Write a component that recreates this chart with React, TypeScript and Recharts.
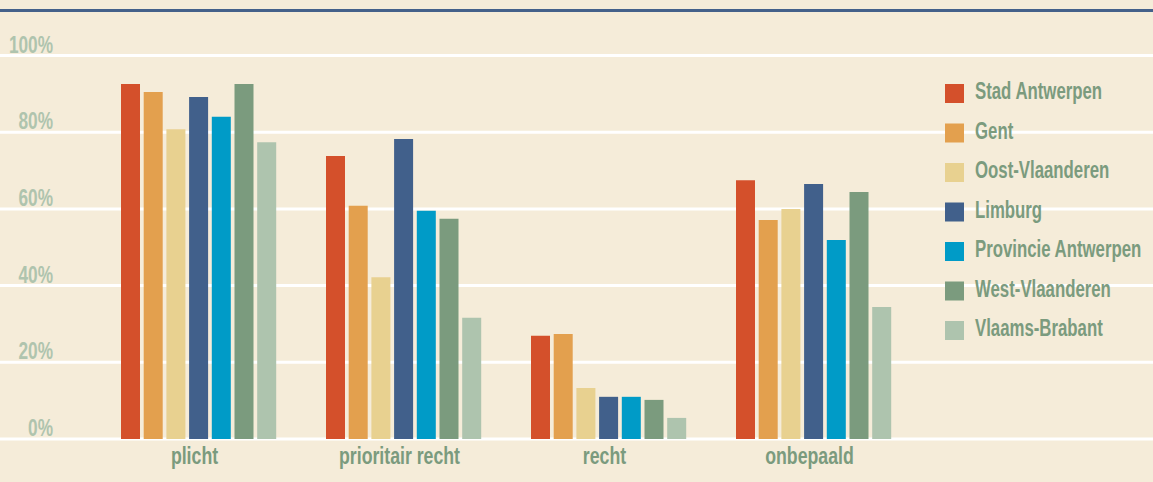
import React from 'react';
import { BarChart, Bar, XAxis, YAxis, CartesianGrid, Legend } from 'recharts';

const categories = ['plicht', 'prioritair recht', 'recht', 'onbepaald'];
const yTicks = [0, 20, 40, 60, 80, 100];

const seriesNames = [
  'Stad Antwerpen',
  'Gent',
  'Oost-Vlaanderen',
  'Limburg',
  'Provincie Antwerpen',
  'West-Vlaanderen',
  'Vlaams-Brabant',
];
const seriesColors = ['#d4502b', '#e3a04e', '#e8d190', '#41608b', '#009bc7', '#7b9b7e', '#aec4ae'];

const stadAntwerpen = [92.6, 73.8, 26.9, 67.5];
const gent = [90.5, 60.8, 27.4, 57.1];
const oostVlaanderen = [80.8, 42.2, 13.3, 60.0];
const limburg = [89.2, 78.2, 11.0, 66.5];
const provincieAntwerpen = [84.0, 59.5, 11.0, 51.9];
const westVlaanderen = [92.6, 57.4, 10.2, 64.4];
const vlaamsBrabant = [77.4, 31.6, 5.5, 34.4];

const seriesValues = [stadAntwerpen, gent, oostVlaanderen, limburg, provincieAntwerpen, westVlaanderen, vlaamsBrabant];

const data = categories.map((name, i) => {
  const row: Record<string, string | number> = { name };
  seriesNames.forEach((s, j) => {
    row[s] = seriesValues[j][i];
  });
  return row;
});

// no condensed gothic available, so squeeze Liberation Sans Bold horizontally
const FONT = "'Liberation Sans', Arial, sans-serif";
const BG = '#f5ecd9';
const GREEN = '#7b9b7e';

const YTick = (props: any) => {
  const { y, payload } = props;
  return (
    <g transform={`translate(53, ${y - 3}) scale(0.75, 1)`}>
      <text x={0} y={0} textAnchor="end" fill="#afc4ae" fontFamily={FONT} fontWeight="bold" fontSize={23}>
        {payload.value}%
      </text>
    </g>
  );
};

const XTick = (props: any) => {
  const { x, y, payload } = props;
  return (
    <g transform={`translate(${x - 4}, ${y + 17}) scale(0.77, 1)`}>
      <text x={0} y={0} textAnchor="middle" fill={GREEN} fontFamily={FONT} fontWeight="bold" fontSize={23}>
        {payload.value}
      </text>
    </g>
  );
};

const LegendContent = () => (
  <svg width={208} height={7 * 39.5} style={{ display: 'block', overflow: 'visible' }}>
    {seriesNames.map((s, i) => (
      <g key={s} transform={`translate(0, ${i * 39.5})`}>
        <rect x={0} y={0} width={19} height={19} fill={seriesColors[i]} />
        <g transform="translate(30, 15) scale(0.73, 1)">
          <text x={0} y={0} fill={GREEN} fontFamily={FONT} fontWeight="bold" fontSize={23}>
            {s}
          </text>
        </g>
      </g>
    ))}
  </svg>
);

export default function App() {
  return (
    <div style={{ position: 'fixed', left: 0, top: 0, width: 1153, height: 482, background: BG, overflow: 'hidden' }}>
      <div style={{ position: 'absolute', left: 0, top: 9, width: 1153, height: 3, background: '#44618a' }} />
      <BarChart
        width={1153}
        height={482}
        data={data}
        margin={{ top: 55.5, right: 0, left: 0, bottom: 0 }}
        barSize={19}
        barGap={3.7}
      >
        <CartesianGrid horizontal vertical={false} stroke="#ffffff" strokeWidth={3} />
        <XAxis
          dataKey="name"
          height={43}
          axisLine={false}
          tickLine={false}
          padding={{ left: 96, right: 237 }}
          tick={<XTick />}
          interval={0}
        />
        <YAxis
          mirror
          width={60}
          domain={[0, 100]}
          ticks={yTicks}
          axisLine={false}
          tickLine={false}
          tick={<YTick />}
        />
        <Legend
          layout="vertical"
          align="center"
          verticalAlign="middle"
          content={<LegendContent />}
          wrapperStyle={{ left: 945, top: 84, width: 208 }}
        />
        {seriesNames.map((s, i) => (
          <Bar key={s} dataKey={s} fill={seriesColors[i]} isAnimationActive={false} />
        ))}
      </BarChart>
    </div>
  );
}
